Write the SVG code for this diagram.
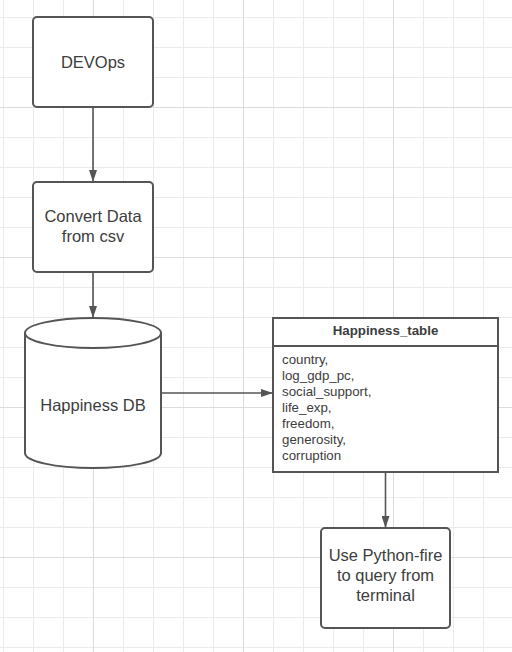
<svg xmlns="http://www.w3.org/2000/svg" width="512" height="652" viewBox="0 0 512 652">
  <defs>
    <pattern id="minor" x="3" y="17" width="30" height="30" patternUnits="userSpaceOnUse">
      <path d="M0 0.5H30M0.5 0V30" fill="none" stroke="#ebebeb" stroke-width="1"/>
    </pattern>
    <pattern id="major" x="93" y="107" width="150" height="150" patternUnits="userSpaceOnUse">
      <path d="M0 0.5H150M0.5 0V150" fill="none" stroke="#dcdcdc" stroke-width="1"/>
    </pattern>
    <marker id="arrow" viewBox="0 0 12 8" refX="11" refY="4" markerWidth="12" markerHeight="8" markerUnits="userSpaceOnUse" orient="auto">
      <path d="M0 0L12 4L0 8Z" fill="#555"/>
    </marker>
  </defs>
  <style>
    .shape { fill: #fff; stroke: #555; stroke-width: 2; }
    .conn { fill: none; stroke: #555; stroke-width: 1.6; marker-end: url(#arrow); }
    .lbl { font-family: "Liberation Sans", Arial, sans-serif; font-size: 16.5px; fill: #3d3d3d; text-anchor: middle; }
    .hdr { font-family: "Liberation Sans", Arial, sans-serif; font-size: 13.3px; font-weight: bold; fill: #3d3d3d; text-anchor: middle; }
    .fld { font-family: "Liberation Sans", Arial, sans-serif; font-size: 13.3px; fill: #3d3d3d; }
  </style>
  <rect width="512" height="652" fill="#fff"/>
  <rect width="512" height="652" fill="url(#minor)"/>
  <rect width="512" height="652" fill="url(#major)"/>

  <g id="connectors">
    <line class="conn" x1="93" y1="108" x2="93" y2="181"/>
    <line class="conn" x1="93" y1="273" x2="93" y2="317"/>
    <line class="conn" x1="161" y1="393" x2="272" y2="393"/>
    <line class="conn" x1="385.5" y1="472" x2="385.5" y2="527"/>
  </g>

  <g id="devops">
    <rect class="shape" x="33" y="17" width="120" height="90" rx="4"/>
    <text class="lbl" x="93" y="68">DEVOps</text>
  </g>

  <g id="convert">
    <rect class="shape" x="33" y="182" width="120" height="90" rx="4"/>
    <text class="lbl" x="93" y="222">Convert Data</text>
    <text class="lbl" x="93" y="242">from csv</text>
  </g>

  <g id="happiness-db">
    <path class="shape" d="M25 333A68 15 0 0 1 161 333V453A68 15 0 0 1 25 453Z"/>
    <path class="shape" fill="none" d="M25 333A68 15 0 0 0 161 333"/>
    <text class="lbl" x="93" y="411">Happiness DB</text>
  </g>

  <g id="happiness-table">
    <rect class="shape" x="273" y="318" width="225" height="154"/>
    <line x1="273" y1="346" x2="498" y2="346" stroke="#555" stroke-width="2"/>
    <text class="hdr" x="385.5" y="335">Happiness_table</text>
    <text class="fld" x="282" y="364">country,</text>
    <text class="fld" x="282" y="380">log_gdp_pc,</text>
    <text class="fld" x="282" y="396">social_support,</text>
    <text class="fld" x="282" y="412">life_exp,</text>
    <text class="fld" x="282" y="428">freedom,</text>
    <text class="fld" x="282" y="444">generosity,</text>
    <text class="fld" x="282" y="460">corruption</text>
  </g>

  <g id="python-fire">
    <rect class="shape" x="321" y="528" width="129" height="100" rx="4"/>
    <text class="lbl" x="385.5" y="561">Use Python-fire</text>
    <text class="lbl" x="385.5" y="581">to query from</text>
    <text class="lbl" x="385.5" y="601">terminal</text>
  </g>
</svg>
